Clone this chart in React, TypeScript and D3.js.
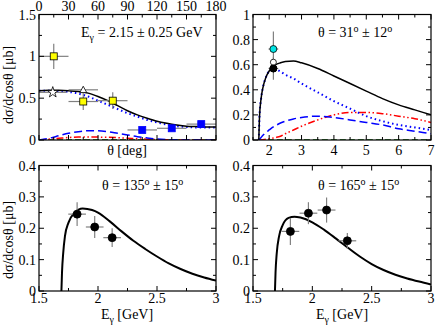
import React from "react";
import * as d3 from "d3";

// ---------- Data ----------
// Top-left panel (theta in deg)
const thetaGrid = [0, 10, 20, 30, 40, 50, 60, 70, 80, 90, 100, 110, 120, 130, 140, 150, 160, 170, 180];
const tlBlack = [0.59, 0.595, 0.595, 0.59, 0.58, 0.56, 0.52, 0.47, 0.41, 0.35, 0.3, 0.26, 0.225, 0.2, 0.18, 0.165, 0.16, 0.155, 0.155];
const tlBlueDot = [0.59, 0.59, 0.585, 0.575, 0.555, 0.52, 0.47, 0.42, 0.37, 0.32, 0.28, 0.24, 0.21, 0.185, 0.165, 0.155, 0.15, 0.15, 0.15];
const tlBlueDash = [0, 0.02, 0.05, 0.08, 0.1, 0.11, 0.11, 0.1, 0.08, 0.06, 0.04, 0.025, 0.012, 0.005, 0.002, 0, 0, 0, 0];
const tlRed = [0, 0.01, 0.02, 0.03, 0.035, 0.036, 0.035, 0.032, 0.028, 0.022, 0.015, 0.009, 0.005, 0.002, 0, 0, 0, 0, 0];
const tlGreen = [0, 0, 0, 0, 0, 0, 0, 0, 0, 0, 0, 0, 0, 0, 0, 0, 0, 0, 0];
const tlYellowX = [15, 45, 75];
const tlYellowY = [1.0, 0.46, 0.47];
const tlYellowErr = [0.15, 0.1, 0.1];
const tlBlueX = [105, 135, 165];
const tlBlueY = [0.12, 0.14, 0.19];
const tlBlueErr = [0.01, 0.01, 0.02];
const tlTriX = [45];
const tlTriY = [0.6];
const tlStarX = [14];
const tlStarY = [0.57];

// Top-right panel (E_gamma in GeV)
const trE = [1.68, 1.7, 1.75, 1.8, 1.9, 2.0, 2.1, 2.2, 2.35, 2.5, 2.75, 3.0, 3.5, 4.0, 4.5, 5.0, 5.5, 6.0, 6.5, 7.0];
const trBlack = [0, 0.18, 0.33, 0.41, 0.5, 0.55, 0.58, 0.6, 0.615, 0.625, 0.63, 0.615, 0.57, 0.51, 0.45, 0.39, 0.33, 0.28, 0.24, 0.2];
const trBlueDot = [0, 0.18, 0.33, 0.41, 0.5, 0.55, 0.57, 0.565, 0.545, 0.52, 0.49, 0.45, 0.38, 0.31, 0.25, 0.19, 0.15, 0.12, 0.1, 0.08];
const trBlueDash = [0, 0.005, 0.02, 0.035, 0.06, 0.08, 0.1, 0.115, 0.135, 0.15, 0.168, 0.18, 0.19, 0.18, 0.16, 0.14, 0.12, 0.09, 0.07, 0.05];
const trRed = [0, 0, 0.001, 0.003, 0.006, 0.01, 0.015, 0.02, 0.03, 0.05, 0.08, 0.11, 0.16, 0.2, 0.22, 0.22, 0.21, 0.19, 0.17, 0.14];
const trGreen = trE.map(() => 0);
const trCyanX = [2.13];
const trCyanY = [0.725];
const trCyanErr = [0.14];
const trOpenX = [2.13];
const trOpenY = [0.62];
const trBlackX = [2.13];
const trBlackY = [0.57];
const trBlackErr = [0.09];

// Bottom-left panel (theta = 135)
const blE = [1.69, 1.695, 1.705, 1.72, 1.75, 1.8, 1.87, 1.95, 2.0, 2.1, 2.2, 2.3, 2.4, 2.5, 2.6, 2.7, 2.8, 2.9, 3.0];
const blCurve = [0, 0.06, 0.12, 0.175, 0.218, 0.249, 0.263, 0.258, 0.25, 0.222, 0.19, 0.16, 0.134, 0.11, 0.088, 0.07, 0.055, 0.043, 0.033];
const blPtX = [1.823, 1.972, 2.12];
const blPtY = [0.245, 0.204, 0.17];
const blPtErr = [0.038, 0.035, 0.03];

// Bottom-right panel (theta = 165)
const brE = [1.685, 1.69, 1.7, 1.72, 1.75, 1.8, 1.85, 1.9, 2.0, 2.1, 2.2, 2.3, 2.4, 2.5, 2.6, 2.7, 2.8, 2.9, 3.0];
const brCurve = [0, 0.06, 0.12, 0.175, 0.21, 0.233, 0.237, 0.234, 0.219, 0.195, 0.167, 0.138, 0.11, 0.086, 0.067, 0.052, 0.04, 0.03, 0.021];
const brPtX = [1.815, 1.967, 2.12, 2.295];
const brPtY = [0.19, 0.248, 0.258, 0.16];
const brPtErr = [0.043, 0.035, 0.04, 0.025];

// Ticks
const tlYTicks = [0, 0.5, 1, 1.5];
const tlXTicks = [0, 30, 60, 90, 120, 150, 180];
const trYTicks = [0, 0.2, 0.4, 0.6, 0.8, 1];
const trXTicks = [2, 3, 4, 5, 6, 7];
const bYTicks = [0, 0.1, 0.2, 0.3, 0.4];
const bXTicks = [1.5, 2, 2.5, 3];

const FONT = "Liberation Serif";
const FS = 14;
const SS = 10;

type Series = { xs: number[]; ys: number[]; color: string; dash?: string; width?: number };
type Pts = { xs: number[]; ys: number[]; xerr?: number; yerr?: number[]; shape: string; fill: string; stroke: string; size?: number };

function fmt(v: number) {
  return String(v);
}

function Panel(props: {
  x0: number; x1: number; y0: number; y1: number;
  xd: [number, number]; yd: [number, number];
  xTicks: number[]; yTicks: number[];
  xMinor: number; yMinor: number;
  xLabelsTop?: boolean; xLabelsBottom?: boolean; xLabelOff?: number;
  series: Series[]; pts: Pts[];
  title: React.ReactNode; titleX: number; titleY: number;
}) {
  const { x0, x1, y0, y1 } = props;
  const xs = d3.scaleLinear().domain(props.xd).range([x0, x1]);
  const ys = d3.scaleLinear().domain(props.yd).range([y1, y0]);
  const clipId = "c" + Math.round(x0) + "_" + Math.round(y0);
  const minorX: number[] = [];
  for (let v = props.xd[0]; v <= props.xd[1] + 1e-9; v += props.xMinor) minorX.push(v);
  const minorY: number[] = [];
  for (let v = props.yd[0]; v <= props.yd[1] + 1e-9; v += props.yMinor) minorY.push(v);
  const isMajor = (arr: number[], v: number) => arr.some((t) => Math.abs(t - v) < 1e-6);
  const M = 5, m = 3;
  const line = d3.line<[number, number]>().x((d) => xs(d[0])).y((d) => ys(d[1])).curve(d3.curveMonotoneX);

  return (
    <g>
      <defs>
        <clipPath id={clipId}>
          <rect x={x0} y={y0} width={x1 - x0} height={y1 - y0} />
        </clipPath>
      </defs>
      <g clipPath={`url(#${clipId})`}>
        {props.series.map((s, i) => (
          <path key={i} d={line(s.xs.map((x, j) => [x, s.ys[j]] as [number, number])) || ""}
            fill="none" stroke={s.color} strokeWidth={s.width ?? 1.5} strokeDasharray={s.dash} />
        ))}
      </g>
      {props.pts.map((p, i) => (
        <g key={i}>
          {p.xs.map((x, j) => {
            const cx = xs(x), cy = ys(p.ys[j]);
            return (
              <g key={j}>
                {p.xerr ? <line x1={xs(x - p.xerr)} x2={xs(x + p.xerr)} y1={cy} y2={cy} stroke="#808080" strokeWidth={1.2} /> : null}
                {p.yerr ? <line x1={cx} x2={cx} y1={ys(p.ys[j] - p.yerr[j])} y2={ys(p.ys[j] + p.yerr[j])} stroke="#808080" strokeWidth={1.2} /> : null}
              </g>
            );
          })}
        </g>
      ))}
      {props.pts.map((p, i) => (
        <g key={"m" + i}>
          {p.xs.map((x, j) => {
            const cx = xs(x), cy = ys(p.ys[j]);
            const s = p.size ?? 4;
            if (p.shape === "square")
              return <rect key={j} x={cx - s} y={cy - s} width={2 * s} height={2 * s} fill={p.fill} stroke={p.stroke} strokeWidth={0.8} />;
            if (p.shape === "circle")
              return <circle key={j} cx={cx} cy={cy} r={s} fill={p.fill} stroke={p.stroke} strokeWidth={0.8} />;
            if (p.shape === "triangle")
              return <path key={j} d={`M${cx},${cy - s}L${cx + s},${cy + s * 0.8}L${cx - s},${cy + s * 0.8}Z`} fill={p.fill} stroke={p.stroke} strokeWidth={0.8} />;
            if (p.shape === "star")
              return <path key={j} d={d3.symbol(d3.symbolStar, s * s * 3)() || ""} transform={`translate(${cx},${cy})`} fill={p.fill} stroke={p.stroke} strokeWidth={0.8} />;
            return null;
          })}
        </g>
      ))}
      <rect x={x0} y={y0} width={x1 - x0} height={y1 - y0} fill="none" stroke="#000" strokeWidth={1.2} />
      {minorX.map((v, i) => {
        const L = isMajor(props.xTicks, v) ? M : m;
        const px = xs(v);
        return (
          <g key={"xt" + i}>
            <line x1={px} x2={px} y1={y1} y2={y1 - L} stroke="#000" strokeWidth={1} />
            <line x1={px} x2={px} y1={y0} y2={y0 + L} stroke="#000" strokeWidth={1} />
          </g>
        );
      })}
      {minorY.map((v, i) => {
        const L = isMajor(props.yTicks, v) ? M : m;
        const py = ys(v);
        return (
          <g key={"yt" + i}>
            <line x1={x0} x2={x0 + L} y1={py} y2={py} stroke="#000" strokeWidth={1} />
            <line x1={x1} x2={x1 - L} y1={py} y2={py} stroke="#000" strokeWidth={1} />
          </g>
        );
      })}
      {props.yTicks.map((v, i) => (
        <text key={"yl" + i} x={x0 - 3} y={ys(v) + 5} textAnchor="end" fontSize={FS} fontFamily={FONT}>{fmt(v)}</text>
      ))}
      {props.xLabelsBottom && props.xTicks.map((v, i) => (
        <text key={"xl" + i} x={xs(v)} y={y1 + (props.xLabelOff ?? 15)} textAnchor="middle" fontSize={FS} fontFamily={FONT}>{fmt(v)}</text>
      ))}
      {props.xLabelsTop && props.xTicks.map((v, i) => (
        <text key={"xlt" + i} x={xs(v)} y={y0 - 4} textAnchor="middle" fontSize={FS} fontFamily={FONT}>{fmt(v)}</text>
      ))}
      <text x={props.titleX} y={props.titleY} fontSize={FS} fontFamily={FONT}>{props.title}</text>
    </g>
  );
}

const blueDot = "1.5,3";
const blueDash = "8,4";
const redDDD = "7,2.5,1.5,2.5,1.5,2.5";
const greenDash = "6,3";

const deg = (a: string, b: string) => (
  <tspan>θ = {a}<tspan dy={-5} fontSize={SS}>o</tspan><tspan dy={5}> ± {b}</tspan><tspan dy={-5} fontSize={SS}>o</tspan></tspan>
);

export default function App() {
  const L = { x0: 39, x1: 216 };
  const R = { x0: 253, x1: 431 };
  const T = { y0: 14.5, y1: 140 };
  const B = { y0: 165.5, y1: 291 };
  return (
    <svg width={436} height={327} style={{ position: "absolute", left: 0, top: 0, background: "#fff", fontFamily: FONT }}>
      <Panel {...L} {...T} xd={[0, 180]} yd={[0, 1.5]} xTicks={tlXTicks} yTicks={tlYTicks} xMinor={15} yMinor={0.25}
        xLabelsTop
        series={[
          { xs: thetaGrid, ys: tlGreen, color: "#006400", dash: greenDash },
          { xs: thetaGrid, ys: tlRed, color: "#ff0000", dash: redDDD },
          { xs: thetaGrid, ys: tlBlueDash, color: "#0000ff", dash: blueDash },
          { xs: thetaGrid, ys: tlBlueDot, color: "#0000ff", dash: blueDot, width: 2 },
          { xs: thetaGrid, ys: tlBlack, color: "#000" },
        ]}
        pts={[
          { xs: tlBlueX, ys: tlBlueY, xerr: 15, yerr: tlBlueErr, shape: "square", fill: "#0000ff", stroke: "#0000ff", size: 3.5 },
          { xs: tlYellowX, ys: tlYellowY, xerr: 15, yerr: tlYellowErr, shape: "square", fill: "#ffff00", stroke: "#000", size: 3.5 },
          { xs: tlTriX, ys: tlTriY, xerr: 15, yerr: [0.04], shape: "triangle", fill: "#fff", stroke: "#000", size: 3.5 },
          { xs: tlStarX, ys: tlStarY, xerr: 14, yerr: [0.02], shape: "star", fill: "#fff", stroke: "#000", size: 3.5 },
        ]}
        title={<tspan>E<tspan dy={4} fontSize={SS}>γ</tspan><tspan dy={-4}> = 2.15 ± 0.25 GeV</tspan></tspan>}
        titleX={81} titleY={37}
      />
      <Panel {...R} {...T} xd={[1.5, 7]} yd={[0, 1]} xTicks={trXTicks} yTicks={trYTicks} xMinor={0.5} yMinor={0.1}
        xLabelsBottom
        series={[
          { xs: trE, ys: trGreen, color: "#006400", dash: greenDash },
          { xs: trE, ys: trRed, color: "#ff0000", dash: redDDD },
          { xs: trE, ys: trBlueDash, color: "#0000ff", dash: blueDash },
          { xs: trE, ys: trBlueDot, color: "#0000ff", dash: blueDot, width: 2 },
          { xs: trE, ys: trBlack, color: "#000" },
        ]}
        pts={[
          { xs: trCyanX, ys: trCyanY, xerr: 0.15, yerr: trCyanErr, shape: "circle", fill: "#00e5e5", stroke: "#000", size: 3.5 },
          { xs: trBlackX, ys: trBlackY, xerr: 0.15, yerr: trBlackErr, shape: "circle", fill: "#000", stroke: "#000", size: 3.5 },
          { xs: trOpenX, ys: trOpenY, shape: "circle", fill: "#fff", stroke: "#000", size: 3 },
          { xs: trBlackX, ys: trBlackY, shape: "circle", fill: "#000", stroke: "#000", size: 3.5 },
        ]}
        title={deg("31", "12")}
        titleX={318} titleY={37}
      />
      <Panel {...L} {...B} xd={[1.5, 3]} yd={[0, 0.4]} xTicks={bXTicks} yTicks={bYTicks} xMinor={0.25} yMinor={0.05}
        xLabelsBottom xLabelOff={12}
        series={[{ xs: blE, ys: blCurve, color: "#000", width: 2 }]}
        pts={[{ xs: blPtX, ys: blPtY, xerr: 0.075, yerr: blPtErr, shape: "circle", fill: "#000", stroke: "#000", size: 4 }]}
        title={deg("135", "15")}
        titleX={102} titleY={190}
      />
      <Panel {...R} {...B} xd={[1.5, 3]} yd={[0, 0.4]} xTicks={bXTicks} yTicks={bYTicks} xMinor={0.25} yMinor={0.05}
        xLabelsBottom xLabelOff={12}
        series={[{ xs: brE, ys: brCurve, color: "#000", width: 2 }]}
        pts={[{ xs: brPtX, ys: brPtY, xerr: 0.075, yerr: brPtErr, shape: "circle", fill: "#000", stroke: "#000", size: 4 }]}
        title={deg("165", "15")}
        titleX={318} titleY={190}
      />
      {/* axis labels */}
      <text transform="translate(13,85) rotate(-90)" textAnchor="middle" fontSize={FS} fontFamily={FONT}>dσ/dcosθ [μb]</text>
      <text transform="translate(13,240) rotate(-90)" textAnchor="middle" fontSize={FS} fontFamily={FONT}>dσ/dcosθ [μb]</text>
      <text x={127} y={155} textAnchor="middle" fontSize={FS} fontFamily={FONT}>θ [deg]</text>
      <text x={127} y={319} textAnchor="middle" fontSize={FS} fontFamily={FONT}>E<tspan dy={4} fontSize={SS}>γ</tspan><tspan dy={-4}> [GeV]</tspan></text>
      <text x={342} y={319} textAnchor="middle" fontSize={FS} fontFamily={FONT}>E<tspan dy={4} fontSize={SS}>γ</tspan><tspan dy={-4}> [GeV]</tspan></text>
    </svg>
  );
}
